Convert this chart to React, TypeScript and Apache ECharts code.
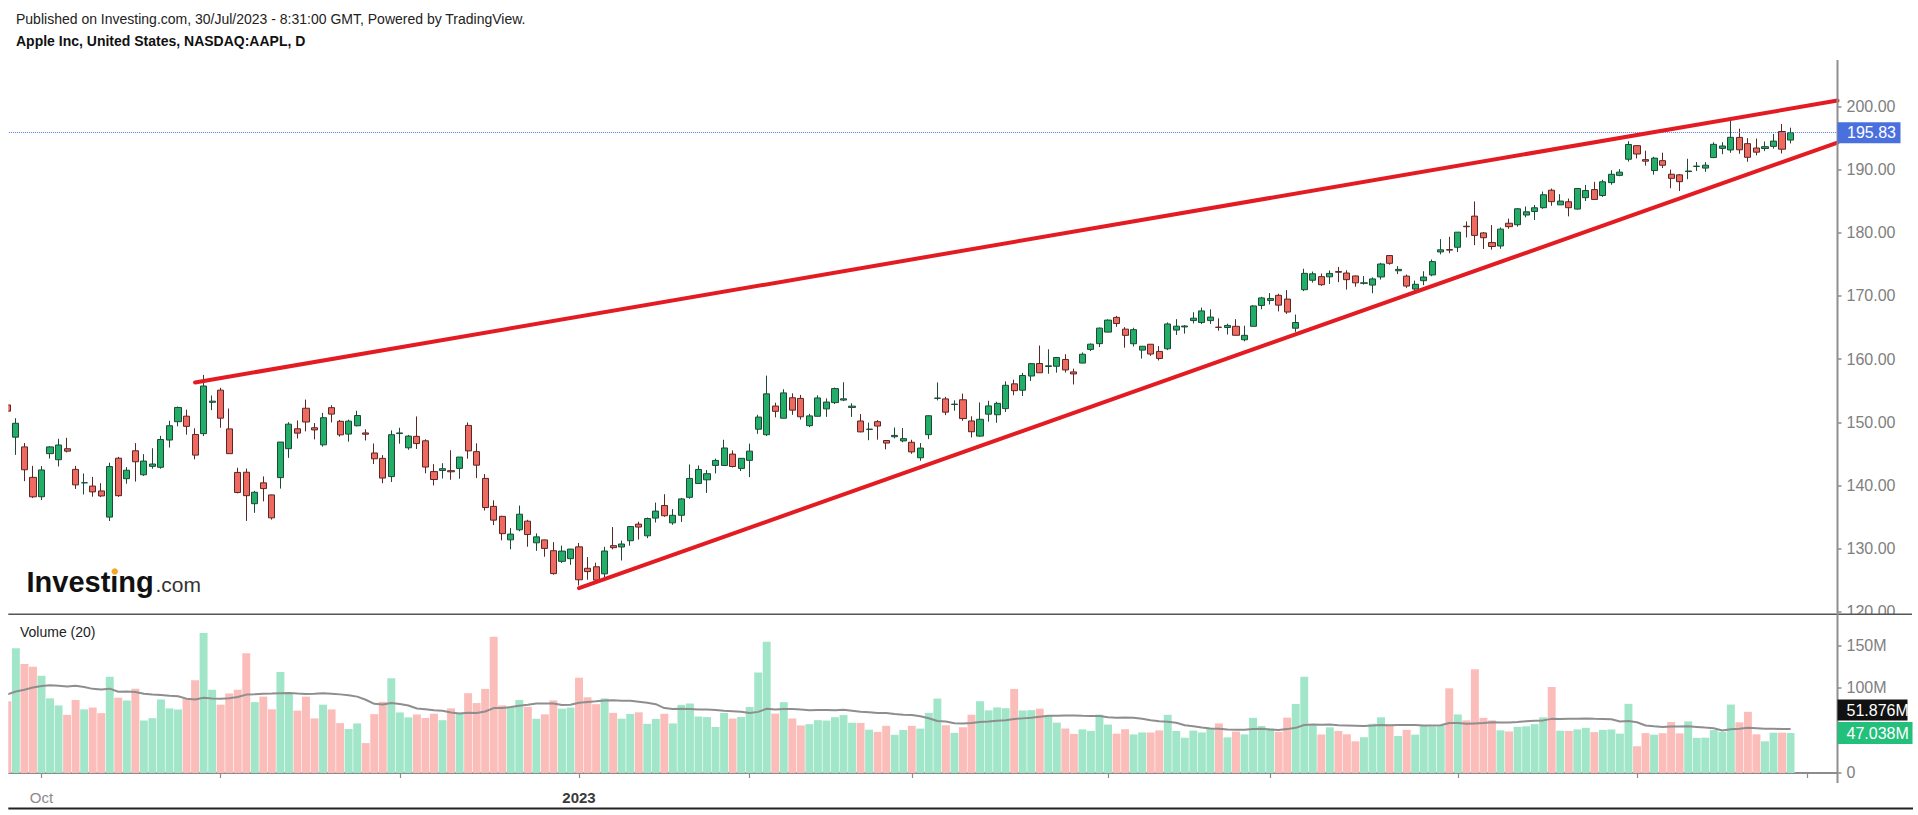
import React, { useEffect, useRef } from 'react';
import * as echarts from 'echarts';

const FONT = '"Liberation Sans", Arial, Helvetica, sans-serif';

const headerLine1 = 'Published on Investing.com, 30/Jul/2023 - 8:31:00 GMT, Powered by TradingView.';
const headerLine2 = 'Apple Inc, United States, NASDAQ:AAPL, D';
const volumeTitle = 'Volume (20)';

// trading days (categories), incl. a few future sessions on the right
const tradingMonths: [string, number[]][] = [
  ['2022-09', [27, 28, 29, 30]],
  ['2022-10', [3, 4, 5, 6, 7, 10, 11, 12, 13, 14, 17, 18, 19, 20, 21, 24, 25, 26, 27, 28, 31]],
  ['2022-11', [1, 2, 3, 4, 7, 8, 9, 10, 11, 14, 15, 16, 17, 18, 21, 22, 23, 25, 28, 29, 30]],
  ['2022-12', [1, 2, 5, 6, 7, 8, 9, 12, 13, 14, 15, 16, 19, 20, 21, 22, 23, 27, 28, 29, 30]],
  ['2023-01', [3, 4, 5, 6, 9, 10, 11, 12, 13, 17, 18, 19, 20, 23, 24, 25, 26, 27, 30, 31]],
  ['2023-02', [1, 2, 3, 6, 7, 8, 9, 10, 13, 14, 15, 16, 17, 21, 22, 23, 24, 27, 28]],
  ['2023-03', [1, 2, 3, 6, 7, 8, 9, 10, 13, 14, 15, 16, 17, 20, 21, 22, 23, 24, 27, 28, 29, 30, 31]],
  ['2023-04', [3, 4, 5, 6, 10, 11, 12, 13, 14, 17, 18, 19, 20, 21, 24, 25, 26, 27, 28]],
  ['2023-05', [1, 2, 3, 4, 5, 8, 9, 10, 11, 12, 15, 16, 17, 18, 19, 22, 23, 24, 25, 26, 30, 31]],
  ['2023-06', [1, 2, 5, 6, 7, 8, 9, 12, 13, 14, 15, 16, 20, 21, 22, 23, 26, 27, 28, 29, 30]],
  ['2023-07', [3, 5, 6, 7, 10, 11, 12, 13, 14, 17, 18, 19, 20, 21, 24, 25, 26, 27, 28, 31]],
  ['2023-08', [1, 2, 3, 4]],
];

const opens = [
  152.74, 147.64, 146.10, 141.28,
  138.21, 145.03, 144.07, 145.81, 142.54, 140.42, 139.90, 139.13, 134.99, 144.31, 141.07, 145.49, 141.69, 143.02, 142.87, 147.19, 150.09, 150.96, 148.07, 148.20, 153.16,
  155.08, 148.95, 142.06, 142.09, 137.11, 140.41, 138.50, 141.24, 145.82, 148.97, 152.22, 149.13, 146.43, 152.31, 150.16, 148.13, 149.45, 148.31, 145.14, 144.29, 141.40,
  148.21, 145.96, 147.77, 147.07, 142.19, 142.36, 142.34, 142.70, 149.50, 145.35, 141.11, 136.69, 135.11, 131.39, 132.98, 134.35, 130.92, 131.38, 129.67, 127.99, 128.41,
  130.28, 126.89, 127.13, 126.01, 130.47, 130.26, 131.25, 133.88, 132.03, 134.83, 136.82, 134.08, 135.28, 138.12, 140.31, 140.89, 143.17, 143.16, 144.96, 142.70,
  143.97, 148.90, 148.03, 152.57, 150.64, 153.88, 153.78, 149.46, 150.95, 152.12, 153.11, 153.51, 152.35, 150.20, 148.87, 150.09, 147.11, 147.71, 147.05,
  146.83, 144.38, 148.04, 153.79, 153.70, 152.81, 153.56, 150.21, 147.81, 151.28, 151.19, 152.16, 156.08, 155.07, 157.32, 159.30, 158.83, 158.86, 159.94, 157.97, 159.37, 161.53, 162.44,
  164.27, 166.60, 164.74, 162.43, 161.42, 162.35, 161.22, 161.63, 164.59, 165.09, 166.10, 165.80, 166.09, 165.05, 165.00, 165.19, 163.06, 165.19, 168.49,
  169.28, 170.09, 169.50, 164.89, 170.98, 172.48, 173.05, 173.02, 173.85, 173.62, 173.16, 171.99, 171.71, 173.00, 176.39, 173.98, 173.13, 171.09, 172.41, 173.32, 176.96, 177.33,
  177.70, 181.03, 182.63, 179.97, 178.44, 177.90, 181.50, 181.27, 182.80, 183.37, 183.96, 186.73, 184.41, 184.90, 183.74, 185.55, 186.83, 185.89, 187.93, 189.08, 191.63,
  193.78, 191.57, 189.84, 191.41, 189.26, 189.16, 189.68, 190.50, 190.23, 191.90, 193.35, 193.10, 195.09, 194.10, 193.41, 193.33, 193.67, 196.02, 194.67,
];

const highs = [
  154.72, 150.64, 146.72, 143.10,
  143.07, 146.22, 147.38, 147.54, 143.10, 141.89, 141.35, 140.36, 143.59, 144.52, 142.90, 146.70, 144.95, 145.89, 147.85, 150.23, 152.49, 151.99, 149.05, 157.50, 154.24,
  155.45, 152.17, 142.80, 142.67, 139.15, 141.43, 138.55, 146.87, 150.01, 150.28, 153.59, 149.87, 151.48, 152.70, 150.37, 150.42, 151.83, 148.88, 146.64, 144.81, 148.72,
  149.13, 148.00, 150.92, 147.30, 143.37, 143.52, 145.57, 144.50, 149.97, 146.66, 141.80, 137.65, 135.20, 133.25, 136.81, 134.56, 132.42, 131.41, 131.03, 130.48, 129.95,
  130.90, 128.66, 127.77, 130.29, 133.41, 131.26, 133.51, 134.26, 134.92, 137.29, 138.61, 136.25, 138.02, 143.32, 143.16, 142.43, 144.25, 147.23, 145.55, 144.34,
  146.61, 151.18, 157.38, 153.10, 155.23, 154.58, 154.33, 151.34, 154.26, 153.77, 155.50, 156.33, 153.00, 151.30, 149.95, 150.34, 147.19, 149.17, 149.08,
  147.23, 146.71, 151.11, 156.30, 154.03, 153.47, 154.54, 150.94, 153.14, 153.40, 153.25, 156.46, 156.74, 157.82, 159.40, 162.14, 161.55, 160.34, 160.77, 158.49, 161.05, 162.47, 165.00,
  166.29, 166.84, 165.05, 164.96, 162.03, 162.36, 162.06, 165.80, 166.32, 165.39, 167.41, 168.16, 167.87, 166.45, 165.60, 166.31, 165.28, 168.56, 169.85,
  170.45, 170.35, 170.92, 167.04, 174.30, 173.85, 173.54, 174.03, 174.59, 174.06, 173.21, 173.14, 172.93, 175.24, 176.39, 174.71, 173.38, 172.42, 173.90, 175.77, 178.99, 179.35,
  180.12, 181.78, 184.95, 180.12, 181.21, 180.84, 182.23, 183.89, 184.15, 184.39, 186.52, 186.99, 186.10, 185.41, 187.05, 187.56, 188.05, 188.39, 189.90, 190.07, 194.48,
  193.88, 192.98, 192.02, 192.67, 189.99, 189.30, 191.70, 191.19, 191.18, 194.32, 194.33, 198.23, 196.47, 194.97, 194.91, 194.44, 195.64, 197.20, 196.63,
];

const lows = [
  149.95, 144.84, 140.68, 138.00,
  137.69, 144.26, 143.01, 145.22, 139.45, 138.57, 138.22, 138.16, 134.37, 138.19, 140.27, 140.61, 141.50, 142.65, 142.65, 146.00, 149.36, 148.04, 144.13, 147.82, 151.92,
  149.13, 145.00, 138.75, 134.38, 135.67, 137.49, 134.59, 139.50, 144.37, 147.43, 148.56, 147.29, 146.15, 149.97, 147.72, 146.93, 149.34, 147.12, 143.38, 140.35, 140.55,
  146.61, 145.65, 145.77, 141.92, 140.00, 141.10, 140.90, 141.06, 144.24, 141.16, 136.03, 133.73, 131.32, 129.89, 132.75, 130.30, 129.64, 128.72, 125.87, 127.73, 127.43,
  124.17, 125.08, 124.76, 124.89, 129.89, 128.12, 130.46, 131.44, 131.66, 134.13, 135.03, 133.77, 134.22, 137.90, 140.30, 138.81, 141.90, 143.08, 142.85, 142.28,
  141.32, 148.17, 147.83, 150.78, 150.64, 151.17, 150.42, 149.22, 150.92, 150.86, 152.88, 153.35, 150.85, 148.41, 147.16, 147.24, 145.72, 147.45, 146.83,
  145.01, 143.90, 147.33, 153.46, 151.13, 151.83, 150.23, 147.61, 147.70, 150.10, 149.92, 151.64, 154.28, 154.15, 156.54, 157.81, 157.68, 157.85, 157.87, 155.98, 159.35, 161.27, 161.91,
  164.22, 165.11, 161.80, 162.00, 160.08, 160.51, 159.78, 161.42, 163.82, 164.03, 165.65, 165.54, 165.56, 164.49, 163.89, 163.73, 162.80, 165.19, 167.88,
  168.64, 167.54, 167.16, 164.31, 170.76, 172.11, 171.60, 171.90, 172.17, 171.00, 171.47, 171.80, 170.42, 172.58, 174.94, 173.45, 171.28, 170.52, 171.69, 173.11, 176.57, 176.76,
  176.93, 179.26, 178.04, 177.43, 177.32, 177.46, 180.63, 180.97, 182.44, 182.02, 183.78, 184.27, 184.41, 182.59, 183.67, 185.01, 185.23, 185.67, 187.60, 188.94, 191.26,
  191.76, 190.62, 189.20, 190.24, 187.04, 186.60, 188.47, 189.78, 189.63, 191.81, 192.42, 192.65, 192.50, 191.23, 192.25, 192.92, 193.32, 192.55, 194.14,
];

const closes = [
  151.76, 149.84, 142.48, 138.20,
  142.45, 146.10, 146.40, 145.43, 140.09, 140.42, 138.98, 138.34, 142.99, 138.38, 142.41, 143.75, 143.86, 143.39, 147.27, 149.45, 152.34, 149.35, 144.80, 155.74, 153.34,
  150.65, 145.03, 138.88, 138.38, 138.92, 139.50, 134.87, 146.87, 149.70, 148.28, 150.04, 148.79, 150.72, 151.29, 148.01, 150.18, 151.07, 148.11, 144.22, 141.17, 148.03,
  148.31, 147.81, 146.63, 142.91, 140.94, 142.65, 142.16, 144.49, 145.47, 143.21, 136.50, 134.51, 132.37, 132.30, 135.45, 132.23, 131.86, 130.03, 126.04, 129.61, 129.93,
  125.07, 126.36, 125.02, 129.62, 130.15, 130.73, 133.49, 133.41, 134.76, 135.94, 135.21, 135.27, 137.87, 141.11, 142.53, 141.86, 143.96, 145.93, 143.00, 144.29,
  145.43, 150.82, 154.50, 151.73, 154.65, 151.92, 150.87, 151.01, 153.85, 153.20, 155.33, 153.71, 152.55, 148.48, 148.91, 149.40, 146.71, 147.92, 147.41,
  145.31, 145.91, 151.03, 153.83, 151.60, 152.87, 150.59, 148.50, 150.47, 152.59, 152.99, 155.85, 155.00, 157.40, 159.28, 157.83, 158.93, 160.25, 158.28, 157.65, 160.77, 162.36, 164.90,
  166.17, 165.63, 163.76, 164.66, 162.03, 160.80, 160.10, 165.56, 165.21, 165.23, 166.47, 167.63, 166.65, 165.02, 165.33, 163.77, 163.76, 168.41, 169.68,
  169.59, 168.54, 167.45, 165.79, 173.57, 173.50, 171.77, 173.56, 173.75, 172.57, 172.07, 172.07, 172.69, 175.05, 175.16, 174.20, 171.56, 171.84, 172.99, 175.43, 177.30, 177.25,
  180.09, 180.95, 179.58, 179.21, 177.82, 180.57, 180.96, 183.79, 183.31, 183.95, 186.01, 184.92, 185.01, 183.96, 187.00, 186.68, 185.27, 188.06, 189.25, 189.59, 193.97,
  192.46, 191.33, 191.81, 190.68, 188.61, 188.08, 189.77, 190.54, 190.69, 193.99, 193.73, 195.10, 193.13, 191.94, 192.75, 193.62, 194.50, 193.22, 195.83,
];

// daily volume, millions
const volumes = [
  84.44, 146.69, 128.14, 124.93,
  114.31, 87.83, 79.47, 68.40, 85.93, 74.90, 77.03, 70.43, 113.22, 88.60, 85.25, 99.14, 61.76, 64.52, 86.55, 75.98, 74.73, 88.19, 109.18, 164.76, 97.94,
  80.38, 93.60, 97.92, 140.81, 83.37, 89.91, 74.92, 118.85, 93.98, 73.37, 89.87, 64.22, 80.39, 74.83, 58.72, 51.80, 58.30, 35.20, 69.25, 83.76, 111.38,
  71.25, 65.45, 68.83, 64.73, 69.72, 62.13, 76.10, 70.46, 93.89, 82.29, 98.93, 160.16, 79.59, 77.43, 85.93, 77.85, 63.81, 69.01, 85.44, 75.70, 77.03,
  112.12, 89.11, 80.96, 87.75, 70.79, 63.90, 69.46, 71.38, 57.81, 63.65, 69.67, 58.28, 80.22, 81.76, 66.44, 65.80, 54.11, 70.56, 64.02, 65.87,
  77.66, 118.34, 154.36, 69.86, 83.32, 64.12, 56.01, 57.45, 62.20, 61.71, 65.67, 68.17, 59.14, 58.87, 51.01, 48.39, 55.47, 44.99, 50.55,
  55.48, 52.24, 70.73, 87.56, 56.18, 47.20, 53.83, 68.57, 84.46, 73.70, 77.17, 76.25, 98.94, 73.64, 73.94, 75.70, 67.62, 59.20, 52.39, 45.99, 51.31, 49.50, 68.69,
  56.98, 46.28, 51.51, 45.39, 47.72, 47.64, 50.13, 68.45, 49.39, 41.52, 49.92, 47.72, 52.46, 58.34, 41.95, 48.71, 45.50, 64.90, 55.28,
  52.47, 48.43, 65.14, 81.24, 113.32, 55.96, 45.33, 53.72, 49.51, 45.53, 37.27, 42.11, 57.95, 65.50, 55.81, 43.57, 50.75, 45.14, 56.06, 54.84, 55.96, 99.63,
  68.90, 61.95, 121.95, 64.85, 61.94, 50.21, 48.87, 54.27, 54.93, 57.46, 65.43, 101.24, 49.80, 49.52, 51.25, 53.12, 48.09, 50.73, 51.22, 46.35, 81.382,
  31.46, 46.92, 45.09, 46.78, 59.92, 46.64, 60.75, 41.34, 41.57, 50.52, 48.35, 80.51, 59.58, 71.95, 45.51, 37.28, 47.47, 47.46, 47.038,
];

// the 19 sessions before the first visible one (for the 20-day volume average)
const priorVolumes = [77.90, 87.19, 74.23, 76.96, 73.71, 87.45, 84.92, 68.03, 104.96, 122.66, 87.97, 90.48, 162.28, 81.47, 107.69, 101.70, 86.65, 96.03, 93.34];

const priceTicks = [120, 130, 140, 150, 160, 170, 180, 190, 200];
const volumeTicks = [0, 100, 150];

// trendlines: [date, price] anchors
const upperTrend: [string, number][] = [['2022-10-27', 156.3], ['2023-08-04', 200.8]];
const lowerTrend: [string, number][] = [['2023-01-03', 123.75], ['2023-08-04', 194.04]];

const UP = '#22ad69';
const DOWN = '#ee6a61';
const UP_BORDER = '#1d4a35';
const DOWN_BORDER = '#5a2724';
const VOL_UP = '#a2e6ca';
const VOL_DOWN = '#fbbdb9';

export default function App() {
  const ref = useRef<HTMLDivElement>(null);

  useEffect(() => {
    document.body.style.margin = '0';
    const el = ref.current;
    if (!el) return;
    const chart = echarts.init(el, undefined, { renderer: 'svg' });

    const dates: string[] = [];
    tradingMonths.forEach(([ym, days]) => days.forEach((d) => dates.push(`${ym}-${String(d).padStart(2, '0')}`)));
    const monthStart = dates.map((d, i) => i > 0 && d.slice(5, 7) !== dates[i - 1].slice(5, 7));

    const candleData = opens.map((o, i) => [o, closes[i], lows[i], highs[i]]);
    const volData = volumes.map((v, i) => ({
      value: v,
      itemStyle: { color: closes[i] >= opens[i] ? VOL_UP : VOL_DOWN },
    }));
    const allVol = [...priorVolumes, ...volumes];
    const ma = volumes.map((_, i) => {
      let s = 0;
      for (let k = i; k < i + 20; k++) s += allVol[k];
      return +(s / 20).toFixed(4);
    });
    const last = closes.length - 1;

    const gridLeft = 3.1;
    const gridRight = 80.5;

    chart.setOption({
      animation: false,
      backgroundColor: '#ffffff',
      textStyle: { fontFamily: FONT },
      grid: [
        { left: gridLeft, right: gridRight, top: 60, height: 551.8 },
        { left: gridLeft, right: gridRight, top: 614, height: 168 },
      ],
      xAxis: [
        { type: 'category', gridIndex: 0, data: dates, boundaryGap: true, show: false },
        {
          type: 'category',
          gridIndex: 1,
          data: dates,
          boundaryGap: true,
          axisLine: { show: true, lineStyle: { color: '#8c8c8c', width: 2 } },
          axisTick: {
            show: true,
            alignWithLabel: true,
            interval: (i: number) => monthStart[i],
            length: 5,
            lineStyle: { color: '#8c8c8c', width: 1.2 },
          },
          axisLabel: {
            interval: (i: number) => monthStart[i],
            margin: 8,
            fontSize: 15,
            color: '#8a8a8a',
            fontFamily: FONT,
            formatter: (v: string) => {
              const m = v.slice(5, 7);
              if (m === '10') return 'Oct';
              if (m === '01') return '{b|' + v.slice(0, 4) + '}';
              return '';
            },
            rich: { b: { fontWeight: 'bold', color: '#3a3a3a', fontSize: 15, fontFamily: FONT } },
          },
          splitLine: { show: false },
        },
      ],
      yAxis: [
        {
          type: 'value',
          gridIndex: 0,
          position: 'right',
          min: 120,
          max: 207.34,
          interval: 10,
          axisLine: { show: false },
          axisTick: { show: true, length: 4, customValues: priceTicks, lineStyle: { color: '#8f8f8f', width: 1.5 } },
          axisLabel: {
            customValues: priceTicks,
            margin: 9,
            fontSize: 16,
            color: '#808080',
            fontFamily: FONT,
            formatter: (v: number) => (priceTicks.includes(Math.round(v * 100) / 100) ? v.toFixed(2) : ''),
          },
          splitLine: { show: false },
        },
        {
          type: 'value',
          gridIndex: 1,
          position: 'right',
          min: -10.59,
          max: 187.06,
          axisLine: { show: false },
          axisTick: { show: true, length: 4, customValues: volumeTicks, lineStyle: { color: '#8f8f8f', width: 1.5 } },
          axisLabel: {
            customValues: volumeTicks,
            margin: 9,
            fontSize: 16,
            color: '#808080',
            fontFamily: FONT,
            formatter: (v: number) => (volumeTicks.includes(v) ? (v === 0 ? '0' : v + 'M') : ''),
          },
          splitLine: { show: false },
        },
      ],
      series: [
        {
          type: 'candlestick',
          xAxisIndex: 0,
          yAxisIndex: 0,
          data: candleData,
          barWidth: 6.6,
          itemStyle: {
            color: UP,
            color0: DOWN,
            borderColor: UP_BORDER,
            borderColor0: DOWN_BORDER,
            borderColorDoji: UP_BORDER,
            borderWidth: 1,
          },
          markLine: {
            silent: true,
            symbol: ['none', 'none'],
            label: { show: false },
            lineStyle: { color: '#5a7de0', type: 'dotted', width: 1 },
            data: [{ yAxis: closes[last] }],
          },
        },
        {
          type: 'bar',
          xAxisIndex: 1,
          yAxisIndex: 1,
          data: volData,
          barCategoryGap: '7%',
        },
        {
          type: 'line',
          xAxisIndex: 1,
          yAxisIndex: 1,
          data: ma,
          symbol: 'none',
          lineStyle: { color: '#8e8e8e', width: 2 },
          z: 3,
        },
      ],
    });

    const W = chart.getWidth();
    const rightX = W - gridRight;
    const px = (d: string, v: number) => chart.convertToPixel({ xAxisIndex: 0, yAxisIndex: 0 }, [d, v]) as number[];
    const vx = (d: string, v: number) => chart.convertToPixel({ xAxisIndex: 1, yAxisIndex: 1 }, [d, v]) as number[];

    const trendLine = (pts: [string, number][]) => {
      const a = px(pts[0][0], pts[0][1]);
      const b = px(pts[1][0], pts[1][1]);
      const yEnd = a[1] + ((rightX - a[0]) * (b[1] - a[1])) / (b[0] - a[0]);
      return {
        type: 'line',
        z: 40,
        shape: { x1: a[0], y1: a[1], x2: rightX, y2: yEnd },
        style: { stroke: '#e31b22', lineWidth: 4, lineCap: 'round' },
      };
    };

    const priceY = px(dates[last], closes[last])[1];
    const volY = vx(dates[last], volumes[last])[1];
    const maY = vx(dates[last], ma[last])[1];
    const maBoxY = Math.min(maY, volY - 23);

    const txt = (x: number, y: number, text: string, size: number, fill: string, weight = 'normal', z = 60) => ({
      type: 'text',
      x,
      y,
      z,
      style: { text, fontSize: size, fontFamily: FONT, fontWeight: weight, fill, verticalAlign: 'middle', align: 'left' },
    });

    chart.setOption({
      graphic: {
        elements: [
          txt(16, 18.5, headerLine1, 14, '#222222'),
          txt(16, 41, headerLine2, 14, '#111111', 'bold'),
          txt(20, 631.7, volumeTitle, 14, '#222222'),
          txt(26.5, 581.6, 'Investing', 29, '#111111', 'bold'),
          txt(155.5, 584.4, '.com', 21, '#333333'),
          { type: 'circle', z: 61, shape: { cx: 114.8, cy: 571.5, r: 3.2 }, style: { fill: '#f5a623' } },
          { type: 'rect', z: 50, shape: { x: 0, y: 50, width: 8.3, height: 735 }, style: { fill: '#ffffff' } },
          { type: 'rect', z: 50, shape: { x: rightX + 1, y: 615, width: W - rightX, height: 12 }, style: { fill: '#ffffff' } },
          { type: 'line', z: 55, shape: { x1: 8.3, y1: 614.3, x2: 1912, y2: 614.3 }, style: { stroke: '#555555', lineWidth: 1.5 } },
          { type: 'line', z: 55, shape: { x1: 8.3, y1: 808.5, x2: 1913, y2: 808.5 }, style: { stroke: '#222222', lineWidth: 2 } },
          { type: 'line', z: 55, shape: { x1: rightX, y1: 60, x2: rightX, y2: 783 }, style: { stroke: '#8f8f8f', lineWidth: 2 } },
          trendLine(upperTrend),
          trendLine(lowerTrend),
          { type: 'rect', z: 62, shape: { x: rightX, y: priceY - 10.5, width: 63, height: 21 }, style: { fill: '#4a70dd' } },
          txt(rightX + 9.5, priceY, closes[last].toFixed(2), 16, '#ffffff', 'normal', 63),
          { type: 'rect', z: 62, shape: { x: rightX, y: maBoxY - 10.5, width: 70, height: 21 }, style: { fill: '#111111' } },
          txt(rightX + 9, maBoxY, ma[last].toFixed(3) + 'M', 16, '#ffffff', 'normal', 63),
          { type: 'rect', z: 62, shape: { x: rightX, y: volY - 11, width: 75, height: 22 }, style: { fill: '#22c07a' } },
          txt(rightX + 9, volY, volumes[last].toFixed(3) + 'M', 16, '#ffffff', 'normal', 63),
        ],
      },
    });

    return () => chart.dispose();
  }, []);

  return <div ref={ref} style={{ width: 1918, height: 815, background: '#ffffff' }} />;
}
